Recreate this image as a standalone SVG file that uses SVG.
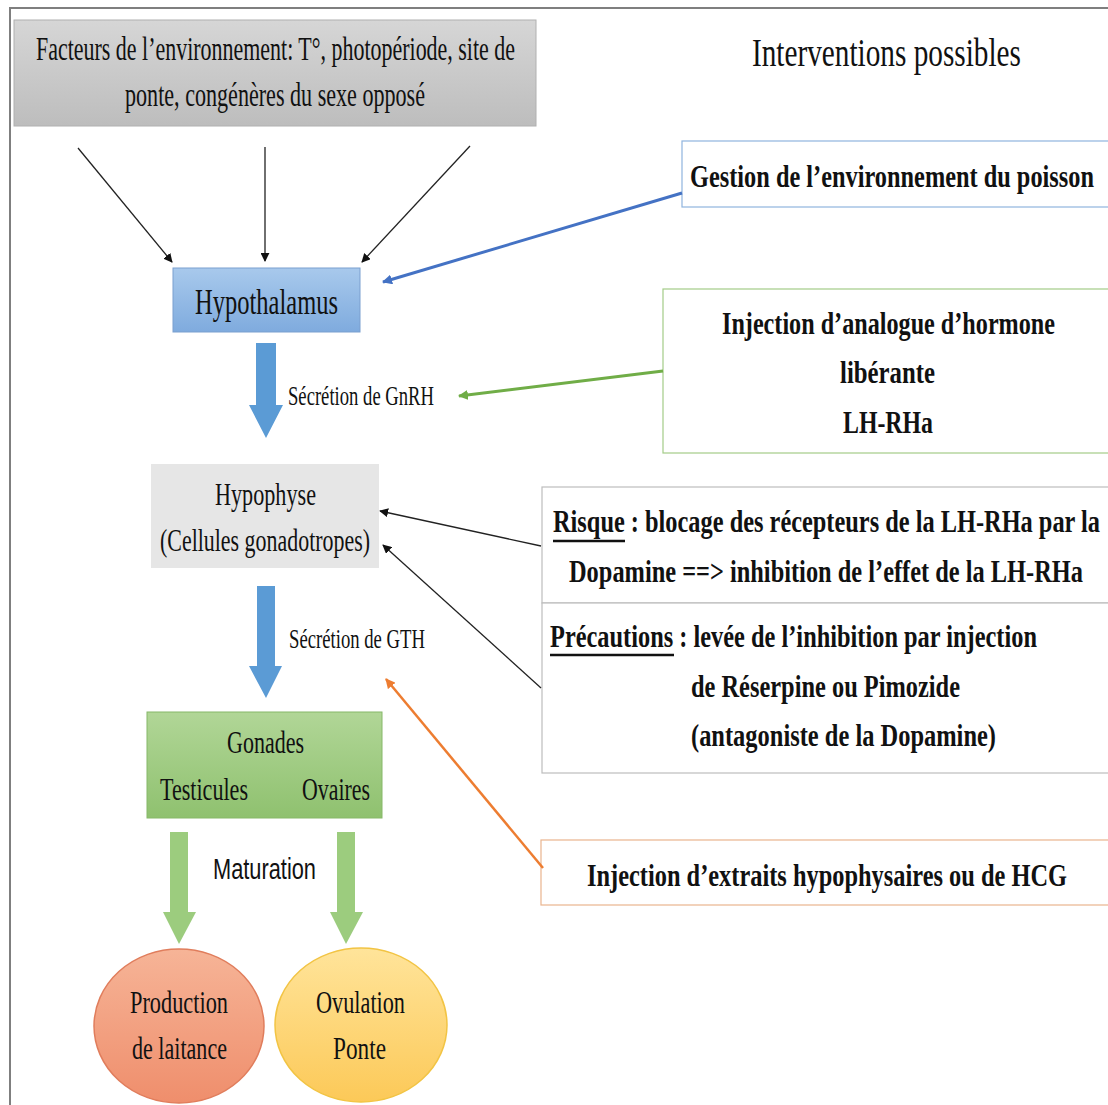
<svg xmlns="http://www.w3.org/2000/svg" width="1108" height="1105" viewBox="0 0 1108 1105">
<defs>
<style>
.t{font-family:"Liberation Serif","Times New Roman",serif;fill:#111;font-size:24px;}
.b{font-family:"Liberation Serif","Times New Roman",serif;font-weight:bold;fill:#111;font-size:22.5px;}
.s{font-family:"Liberation Sans",Arial,sans-serif;fill:#111;font-size:20.5px;}
.thin{stroke:#222;stroke-width:1.3;fill:none;}
</style>
<linearGradient id="gGrey" x1="0" y1="0" x2="0" y2="1"><stop offset="0" stop-color="#d6d6d6"/><stop offset="1" stop-color="#bdbdbd"/></linearGradient>
<linearGradient id="gBlue" x1="0" y1="0" x2="0" y2="1"><stop offset="0" stop-color="#a8c9ec"/><stop offset="1" stop-color="#7fabde"/></linearGradient>
<linearGradient id="gGreen" x1="0" y1="0" x2="0" y2="1"><stop offset="0" stop-color="#b1d697"/><stop offset="1" stop-color="#8fc16f"/></linearGradient>
<linearGradient id="gSalmon" x1="0" y1="0" x2="0" y2="1"><stop offset="0" stop-color="#f6b497"/><stop offset="1" stop-color="#ef8e6c"/></linearGradient>
<linearGradient id="gYellow" x1="0" y1="0" x2="0" y2="1"><stop offset="0" stop-color="#ffe49a"/><stop offset="1" stop-color="#fcc958"/></linearGradient>
<marker id="mBlack" viewBox="0 0 10 10" refX="9" refY="5" markerWidth="9" markerHeight="9" markerUnits="userSpaceOnUse" orient="auto"><path d="M0,0 L10,5 L0,10 z" fill="#111"/></marker>
<marker id="mBlue" viewBox="0 0 10 10" refX="9" refY="5" markerWidth="10" markerHeight="10" markerUnits="userSpaceOnUse" orient="auto"><path d="M0,0 L10,5 L0,10 z" fill="#4472c4"/></marker>
<marker id="mGreen" viewBox="0 0 10 10" refX="9" refY="5" markerWidth="10" markerHeight="10" markerUnits="userSpaceOnUse" orient="auto"><path d="M0,0 L10,5 L0,10 z" fill="#70ad47"/></marker>
<marker id="mOrange" viewBox="0 0 10 10" refX="9" refY="5" markerWidth="10" markerHeight="10" markerUnits="userSpaceOnUse" orient="auto"><path d="M0,0 L10,5 L0,10 z" fill="#ed7d31"/></marker>
</defs>
<rect x="0" y="0" width="1108" height="1105" fill="#ffffff"/>
<path d="M10,1105 V8 H1108" fill="none" stroke="#7f7f7f" stroke-width="2"/>

<g id="facteurs">
<rect x="14" y="20" width="522" height="106" fill="url(#gGrey)" stroke="#b0b0b0" stroke-width="1"/>
<text class="t" transform="translate(36,60) scale(1,1.42)" textLength="479" lengthAdjust="spacingAndGlyphs">Facteurs de l’environnement: T°, photopériode, site de</text>
<text class="t" transform="translate(125,106) scale(1,1.42)" textLength="300" lengthAdjust="spacingAndGlyphs">ponte, congénères du sexe opposé</text>
</g>

<g id="titre">
<text class="t" style="font-size:28px" transform="translate(752,66) scale(1,1.42)" textLength="269" lengthAdjust="spacingAndGlyphs">Interventions possibles</text>
</g>

<g id="hypothalamus">
<rect x="173" y="268" width="187" height="64" fill="url(#gBlue)" stroke="#7a9fcf" stroke-width="1"/>
<text class="t" style="font-size:25.5px" transform="translate(195,314) scale(1,1.42)" textLength="143" lengthAdjust="spacingAndGlyphs">Hypothalamus</text>
</g>

<g id="hypophyse">
<rect x="151" y="464" width="228" height="104" fill="#e6e6e6"/>
<text class="t" style="font-size:22.5px" transform="translate(215,505) scale(1,1.42)" textLength="101" lengthAdjust="spacingAndGlyphs">Hypophyse</text>
<text class="t" style="font-size:22.5px" transform="translate(160,551) scale(1,1.42)" textLength="210" lengthAdjust="spacingAndGlyphs">(Cellules gonadotropes)</text>
</g>

<g id="gonades">
<rect x="147" y="712" width="235" height="106" fill="url(#gGreen)" stroke="#86b868" stroke-width="1"/>
<text class="t" style="font-size:22.5px" transform="translate(227,753) scale(1,1.42)" textLength="77" lengthAdjust="spacingAndGlyphs">Gonades</text>
<text class="t" style="font-size:22.5px" transform="translate(160,800) scale(1,1.42)" textLength="88" lengthAdjust="spacingAndGlyphs">Testicules</text>
<text class="t" style="font-size:22.5px" transform="translate(302,800) scale(1,1.42)" textLength="68" lengthAdjust="spacingAndGlyphs">Ovaires</text>
</g>

<g id="laitance">
<ellipse cx="179" cy="1026" rx="85" ry="77" fill="url(#gSalmon)" stroke="#e07d5c" stroke-width="1.5"/>
<text class="t" style="font-size:22.5px" transform="translate(130,1013) scale(1,1.42)" textLength="98" lengthAdjust="spacingAndGlyphs">Production</text>
<text class="t" style="font-size:22.5px" transform="translate(132,1059) scale(1,1.42)" textLength="95" lengthAdjust="spacingAndGlyphs">de laitance</text>
</g>

<g id="ovulation">
<ellipse cx="361" cy="1025" rx="86" ry="77" fill="url(#gYellow)" stroke="#f2c444" stroke-width="1.5"/>
<text class="t" style="font-size:22.5px" transform="translate(316,1013) scale(1,1.42)" textLength="89" lengthAdjust="spacingAndGlyphs">Ovulation</text>
<text class="t" style="font-size:22.5px" transform="translate(333,1059) scale(1,1.42)" textLength="53" lengthAdjust="spacingAndGlyphs">Ponte</text>
</g>

<g id="gestion">
<rect x="682" y="141" width="440" height="66" fill="#ffffff" stroke="#8fb4de" stroke-width="1.2"/>
<text class="b" transform="translate(690,187) scale(1,1.42)" textLength="404" lengthAdjust="spacingAndGlyphs">Gestion de l’environnement du poisson</text>
</g>

<g id="injection-lhrha">
<rect x="663" y="289" width="460" height="164" fill="#ffffff" stroke="#a3cc88" stroke-width="1.2"/>
<text class="b" transform="translate(722,334) scale(1,1.42)" textLength="333" lengthAdjust="spacingAndGlyphs">Injection d’analogue d’hormone</text>
<text class="b" transform="translate(840,383) scale(1,1.42)" textLength="95" lengthAdjust="spacingAndGlyphs">libérante</text>
<text class="b" transform="translate(843,433) scale(1,1.42)" textLength="90" lengthAdjust="spacingAndGlyphs">LH-RHa</text>
</g>

<g id="risque">
<rect x="542" y="487" width="580" height="116" fill="#ffffff" stroke="#bdbdbd" stroke-width="1.2"/>
<text class="b" transform="translate(553,532) scale(1,1.42)" textLength="547" lengthAdjust="spacingAndGlyphs">Risque : blocage des récepteurs de la LH-RHa par la</text>
<line x1="553" y1="541" x2="625" y2="541" stroke="#111" stroke-width="2.5"/>
<text class="b" transform="translate(569,582) scale(1,1.42)" textLength="514" lengthAdjust="spacingAndGlyphs">Dopamine ==&gt; inhibition de l’effet de la LH-RHa</text>
</g>

<g id="precautions">
<rect x="542" y="603" width="580" height="170" fill="#ffffff" stroke="#bdbdbd" stroke-width="1.2"/>
<text class="b" transform="translate(550,647) scale(1,1.42)" textLength="487" lengthAdjust="spacingAndGlyphs">Précautions : levée de l’inhibition par injection</text>
<line x1="550" y1="655" x2="674" y2="655" stroke="#111" stroke-width="2.5"/>
<text class="b" transform="translate(691,697) scale(1,1.42)" textLength="269" lengthAdjust="spacingAndGlyphs">de Réserpine ou Pimozide</text>
<text class="b" transform="translate(691,746) scale(1,1.42)" textLength="305" lengthAdjust="spacingAndGlyphs">(antagoniste de la Dopamine)</text>
</g>

<g id="injection-hcg">
<rect x="541" y="840" width="580" height="65" fill="#ffffff" stroke="#e9b48e" stroke-width="1.2"/>
<text class="b" transform="translate(587,886) scale(1,1.42)" textLength="480" lengthAdjust="spacingAndGlyphs">Injection d’extraits hypophysaires ou de HCG</text>
</g>

<g id="connecteurs">
<line class="thin" x1="78" y1="148" x2="172" y2="262" marker-end="url(#mBlack)"/>
<line class="thin" x1="265" y1="147" x2="265" y2="261" marker-end="url(#mBlack)"/>
<line class="thin" x1="470" y1="146" x2="362" y2="262" marker-end="url(#mBlack)"/>
<line x1="682" y1="193" x2="383" y2="282" stroke="#4472c4" stroke-width="3" marker-end="url(#mBlue)"/>
<line x1="663" y1="371" x2="459" y2="396" stroke="#70ad47" stroke-width="3" marker-end="url(#mGreen)"/>
<line class="thin" x1="541" y1="546" x2="380" y2="511" marker-end="url(#mBlack)"/>
<line class="thin" x1="541" y1="688" x2="383" y2="545" marker-end="url(#mBlack)"/>
<line x1="543" y1="868" x2="386" y2="679" stroke="#ed7d31" stroke-width="2.5" marker-end="url(#mOrange)"/>
<path d="M256,343 H276 V405 H283 L266,438 L249,405 H256 Z" fill="#5b9bd5"/>
<path d="M257,586 H275 V666 H282 L266,698 L249,666 H257 Z" fill="#5b9bd5"/>
<path d="M170,832 H188 V912 H196 L179,944 L163,912 H170 Z" fill="#9ccc7e"/>
<path d="M337,832 H355 V912 H363 L346,944 L330,912 H337 Z" fill="#9ccc7e"/>
<text class="t" style="font-size:19px" transform="translate(288,405) scale(1,1.42)" textLength="146" lengthAdjust="spacingAndGlyphs">Sécrétion de GnRH</text>
<text class="t" style="font-size:19px" transform="translate(289,648) scale(1,1.42)" textLength="136" lengthAdjust="spacingAndGlyphs">Sécrétion de GTH</text>
<text class="s" transform="translate(213,879) scale(1,1.42)" textLength="103" lengthAdjust="spacingAndGlyphs">Maturation</text>
</g>
</svg>
